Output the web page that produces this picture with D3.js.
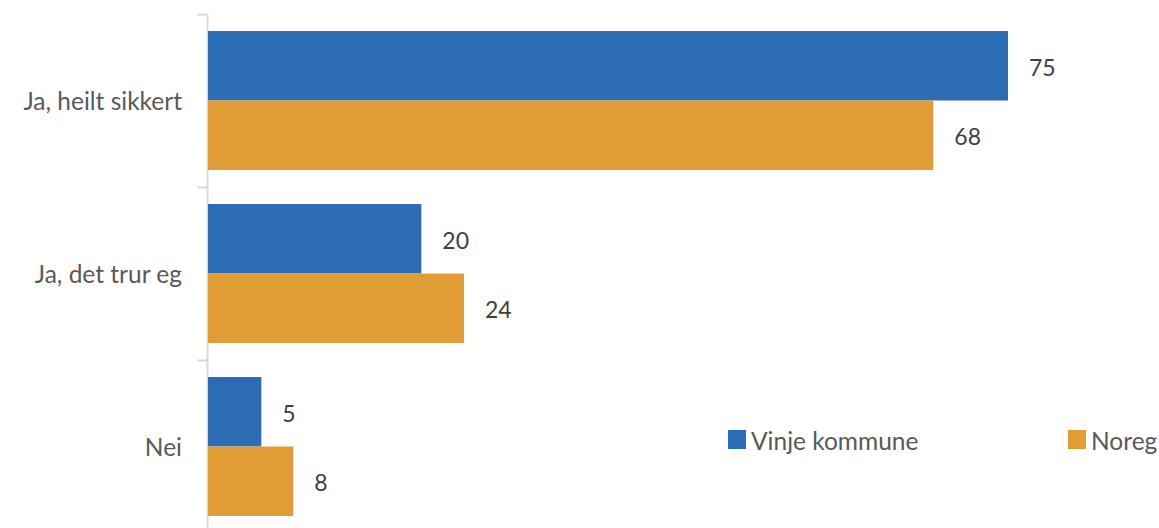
<!DOCTYPE html>
<html><head><meta charset="utf-8">
<script src="https://cdn.jsdelivr.net/npm/d3@7"></script>
<style>body{margin:0;background:#fff;} text{font-family:Lato,"Noto Sans",sans-serif;}</style>
</head><body><svg id="c" width="1159" height="528"></svg>
<script>
const categories = ["Ja, heilt sikkert", "Ja, det trur eg", "Nei"];
const seriesNames = ["Vinje kommune", "Noreg"];
const vinje = [75, 20, 5];
const noreg = [68, 24, 8];
const colors = ["#2B6CB4", "#E09D36"];

const svg = d3.select("#c");
const x = d3.scaleLinear().domain([0, 75]).range([208, 1008]);
const y = d3.scaleBand().domain(categories).range([14, 533]).paddingInner(0.197).paddingOuter(0.0985);
const ySub = d3.scaleBand().domain(seriesNames).range([0, y.bandwidth()]);

const data = categories.map((c, i) => ({cat: c, vals: [{s: seriesNames[0], v: vinje[i]}, {s: seriesNames[1], v: noreg[i]}]}));

// axis
const ag = svg.append("g").attr("transform", "translate(207.5,0)");
ag.append("line").attr("x1", 0).attr("x2", 0).attr("y1", 14).attr("y2", 533).attr("stroke", "#d9d9d9").attr("stroke-width", 2);
ag.selectAll("line.t").data(categories).join("line").attr("class","t")
  .attr("x1", -10).attr("x2", 0)
  .attr("y1", d => Math.round(y(d) - y.step()*y.paddingInner()/2) + 0.5)
  .attr("y2", d => Math.round(y(d) - y.step()*y.paddingInner()/2) + 0.5)
  .attr("stroke", "#d9d9d9").attr("stroke-width", 2);

// category labels
svg.selectAll("text.cat").data(categories).join("text").attr("class","cat")
  .attr("x", 182).attr("y", d => y(d) + y.bandwidth()/2)
  .attr("text-anchor", "end").attr("dominant-baseline", "central")
  .attr("fill", "#595959").style("font-size", "24.5px").text(d => d);

const g = svg.selectAll("g.grp").data(data).join("g").attr("class","grp")
  .attr("transform", d => `translate(0,${y(d.cat)})`);
g.selectAll("rect").data(d => d.vals).join("rect")
  .attr("x", x(0)).attr("y", d => ySub(d.s))
  .attr("width", d => x(d.v) - x(0)).attr("height", ySub.bandwidth())
  .attr("fill", (d, i) => colors[i]);
g.selectAll("text").data(d => d.vals).join("text")
  .attr("x", d => x(d.v) + 21).attr("y", d => ySub(d.s) + ySub.bandwidth()/2 + 1)
  .attr("dominant-baseline", "central").attr("fill", "#404040")
  .style("font-size", "23px").text(d => d.v);

// legend
const legendX = [728, 1068];
const lg = svg.selectAll("g.lg").data(seriesNames).join("g").attr("class","lg")
  .attr("transform", (d, i) => `translate(${legendX[i]},430)`);
lg.append("rect").attr("width", 18).attr("height", 19).attr("fill", (d, i) => colors[i]);
lg.append("text").attr("x", 23).attr("y", 10).attr("dominant-baseline", "central")
  .attr("fill", "#595959").style("font-size", "24.5px").text(d => d);
</script></body></html>
